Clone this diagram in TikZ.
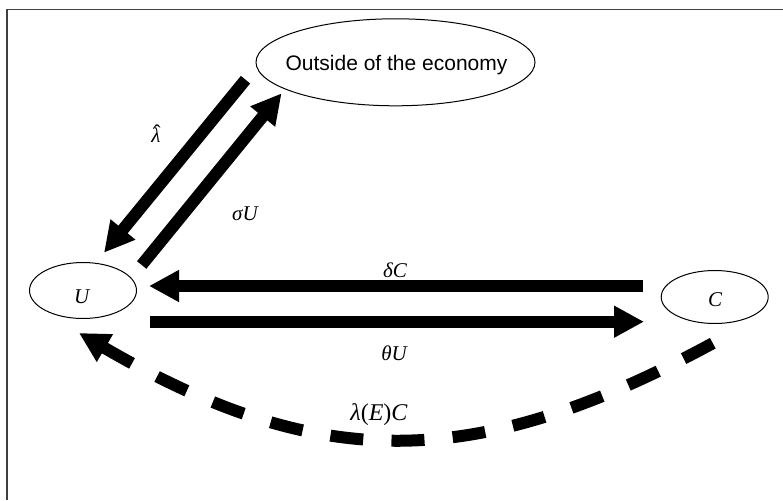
\documentclass[tikz,border=0pt]{standalone}
\usepackage{fontspec}
\setmainfont{Liberation Serif}
\newfontfamily\arialfont{Liberation Sans}
\usetikzlibrary{shapes.geometric,arrows.meta}
\tikzset{
  ell/.style={draw=black, line width=1pt, ellipse, inner sep=0pt},
  lab/.style={inner sep=0pt, font=\fontsize{21}{21}\selectfont\itshape},
  bigtip/.style={line width=12pt, line cap=butt},
  bigarrow/.style={bigtip, -{Triangle[length=30pt,width=30pt]}},
  frameline/.style={draw=black!75, line width=1.5pt}
}
\begin{document}
\begin{tikzpicture}[x=1pt,y=-1pt]
\useasboundingbox (0,0) rectangle (783,500);
\fill[white] (0,0) rectangle (783,500);
% frame (top and left edges)
\coordinate (fa) at (7,500);
\coordinate (fb) at (7,9.5);
\coordinate (fc) at (783,9.5);
\draw[frameline] (fa) -- (fb) -- (fc);
% nodes
\node[ell, minimum width=279pt, minimum height=87pt] (out) at (395.5,62.3) {};
\node[inner sep=0pt, font=\arialfont\fontsize{21}{21}\selectfont] (outtxt) at (396.5,64.8) {Outside of the economy};
\node[ell, minimum width=107pt, minimum height=56pt] (U) at (83,290.5) {};
\node[lab] (Utxt) at (81.7,297) {U};
\node[ell, minimum width=107pt, minimum height=53pt] (C) at (714.7,297) {};
\node[lab] (Ctxt) at (715,300) {C};
% connector end points
\coordinate (l1) at (245.5,79.7);
\coordinate (l2) at (104,252.7);
\coordinate (s1) at (141.7,265);
\coordinate (s2) at (281.6,93.3);
\coordinate (d1) at (643,286);
\coordinate (d2) at (149,286);
\coordinate (t1) at (150,321.7);
\coordinate (t2) at (644,321.7);
\coordinate (e1) at (715,342);
\coordinate (e2) at (79,333);
% arrows
\draw[bigarrow] (l1) -- (l2);
\draw[bigarrow] (s1) -- (s2);
\draw[bigarrow] (d1) -- (d2);
\draw[bigarrow] (t1) -- (t2);
\draw[bigtip, {Triangle[length=30pt,width=30pt]}-, dash pattern=on 33pt off 28.3pt] (e2) .. controls (319,473) and (475,472.6) .. (e1);
% labels
\node[lab] (lhat) at (156,135) {\ooalign{λ\cr\hidewidth\kern2pt\raisebox{3pt}{\upshape ˆ}\hidewidth\cr}};
\node[lab] (sig) at (245,214) {σU};
\node[lab] (del) at (395,270.7) {δC};
\node[lab] (the) at (394,353) {θU};
\node[lab, font=\fontsize{24}{24}\selectfont] (lam) at (379,415) {\textit{λ}(\textit{E})\textit{C}};
\end{tikzpicture}
\end{document}
